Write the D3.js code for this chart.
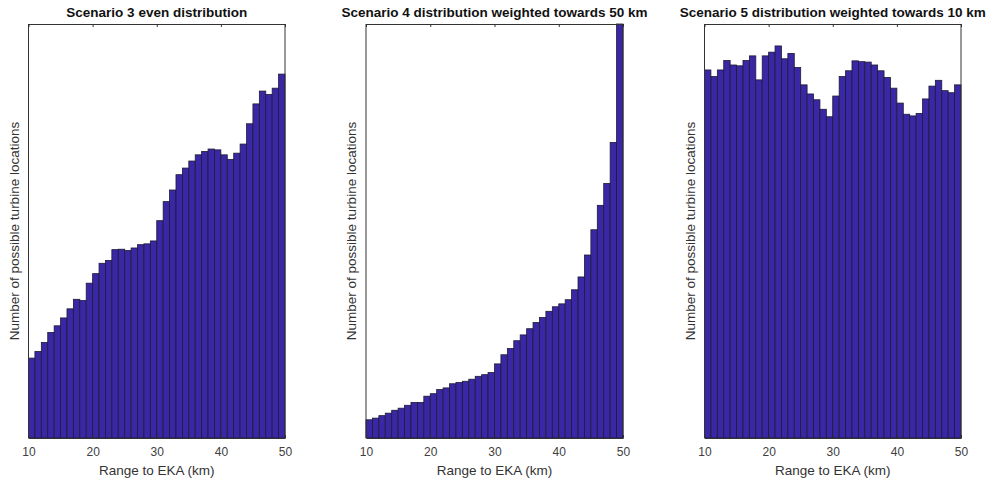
<!DOCTYPE html>
<html>
<head>
<meta charset="utf-8">
<script src="https://cdn.jsdelivr.net/npm/d3@7"></script>
<style>
  body { margin: 0; background: #fff; }
  text { font-family: "Liberation Sans", Arial, sans-serif; }
</style>
</head>
<body>
<div id="chart"></div>
<script>
// bin edges (km) and relative bar heights (0-100 = axis height)
var binEdges = d3.range(10, 51, 1)
var xTicks = [10, 20, 30, 40, 50]

var scenario3 = [19.3, 20.9, 23.1, 25.5, 27.1, 29.0, 31.2, 33.5, 33.2, 37.4,
                 39.7, 42.2, 42.9, 45.5, 45.6, 45.3, 45.9, 46.7, 46.9, 47.6,
                 52.5, 57.1, 59.9, 63.6, 65.2, 66.9, 68.4, 69.2, 69.8, 69.6,
                 68.4, 67.3, 68.8, 71.0, 75.9, 80.7, 83.8, 83.0, 84.5, 87.9]

var scenario4 = [4.4, 4.8, 5.4, 6.0, 6.7, 7.2, 7.9, 8.6, 8.6, 10.1,
                 10.7, 11.7, 12.1, 13.1, 13.4, 13.7, 14.2, 14.9, 15.3, 15.8,
                 17.9, 20.1, 21.6, 23.5, 24.9, 26.4, 27.9, 29.1, 30.6, 31.7,
                 32.4, 33.4, 35.8, 38.9, 44.2, 50.3, 56.2, 61.5, 71.4, 100]

var scenario5 = [88.9, 87.3, 88.9, 91.2, 90.1, 89.9, 91.2, 92.3, 86.5, 92.3,
                 93.2, 94.7, 91.6, 92.9, 89.5, 85.3, 83.1, 81.7, 79.4, 77.6,
                 82.6, 87.3, 88.7, 91.1, 90.9, 90.8, 90.1, 88.7, 87.1, 84.5,
                 80.9, 78.2, 77.8, 78.4, 81.9, 85.0, 86.4, 83.9, 83.4, 85.3]

var titles = ["Scenario 3 even distribution",
              "Scenario 4 distribution weighted towards 50 km",
              "Scenario 5 distribution weighted towards 10 km"]
var xLabel = "Range to EKA (km)"
var yLabel = "Number of possible turbine locations"

var panels = [
  {title: titles[0], values: scenario3, left: 28.5, right: 285},
  {title: titles[1], values: scenario4, left: 366, right: 623},
  {title: titles[2], values: scenario5, left: 704.5, right: 961}
]

var W = 993, H = 483, plotTop = 24, plotBottom = 438

var svg = d3.select("#chart")
  .append("svg")
    .attr("width", W)
    .attr("height", H)

panels.forEach(function(p){
  var x = d3.scaleLinear()
    .domain([10, 50])
    .range([p.left, p.right])
  var y = d3.scaleLinear()
    .domain([0, 100])
    .range([plotBottom, plotTop])

  var g = svg.append("g")

  var bins = p.values.map((v, i) => ({x0: binEdges[i], x1: binEdges[i + 1], v: v}))

  g.selectAll("rect")
    .data(bins)
    .enter().append("rect")
      .attr("x", d => x(d.x0))
      .attr("width", d => x(d.x1) - x(d.x0))
      .attr("y", d => y(d.v))
      .attr("height", d => y(0) - y(d.v))
      .attr("fill", "#3a27a6")
      .attr("stroke", "#1e1b33")
      .attr("stroke-width", 0.8)

  // bottom axis with inward ticks
  var xb = g.append("g")
    .attr("transform", "translate(0," + plotBottom + ")")
    .call(d3.axisBottom(x).tickValues(xTicks).tickSizeInner(-3).tickSizeOuter(0).tickPadding(9))
  // top axis, ticks only
  var xt = g.append("g")
    .attr("transform", "translate(0," + plotTop + ")")
    .call(d3.axisTop(x).tickValues(xTicks).tickSizeInner(-3).tickSizeOuter(0).tickFormat(""))
  ;[xb, xt].forEach(function(a){
    a.select(".domain").attr("stroke", "#333")
    a.selectAll(".tick line").attr("stroke", "#333")
  })
  xb.selectAll(".tick text")
    .attr("fill", "#404040")
    .style("font-size", "12px")
    .style("font-family", "Liberation Sans, Arial, sans-serif")

  // left and right box lines
  g.append("line")
    .attr("x1", x(10)).attr("x2", x(10))
    .attr("y1", plotTop).attr("y2", plotBottom)
    .attr("stroke", "#333")
  g.append("line")
    .attr("x1", x(50)).attr("x2", x(50))
    .attr("y1", plotTop).attr("y2", plotBottom)
    .attr("stroke", "#333")

  g.append("text")
    .attr("x", (p.left + p.right) / 2)
    .attr("y", 17)
    .attr("text-anchor", "middle")
    .style("font-size", "13.5px")
    .style("font-weight", "bold")
    .attr("fill", "#111")
    .text(p.title)

  g.append("text")
    .attr("x", (p.left + p.right) / 2)
    .attr("y", 475)
    .attr("text-anchor", "middle")
    .style("font-size", "13.5px")
    .attr("fill", "#333")
    .text(xLabel)

  g.append("text")
    .attr("transform", "translate(" + (p.left - 10) + "," + ((plotTop + plotBottom) / 2) + ") rotate(-90)")
    .attr("text-anchor", "middle")
    .style("font-size", "13.5px")
    .attr("fill", "#333")
    .text(yLabel)
})
</script>
</body>
</html>
